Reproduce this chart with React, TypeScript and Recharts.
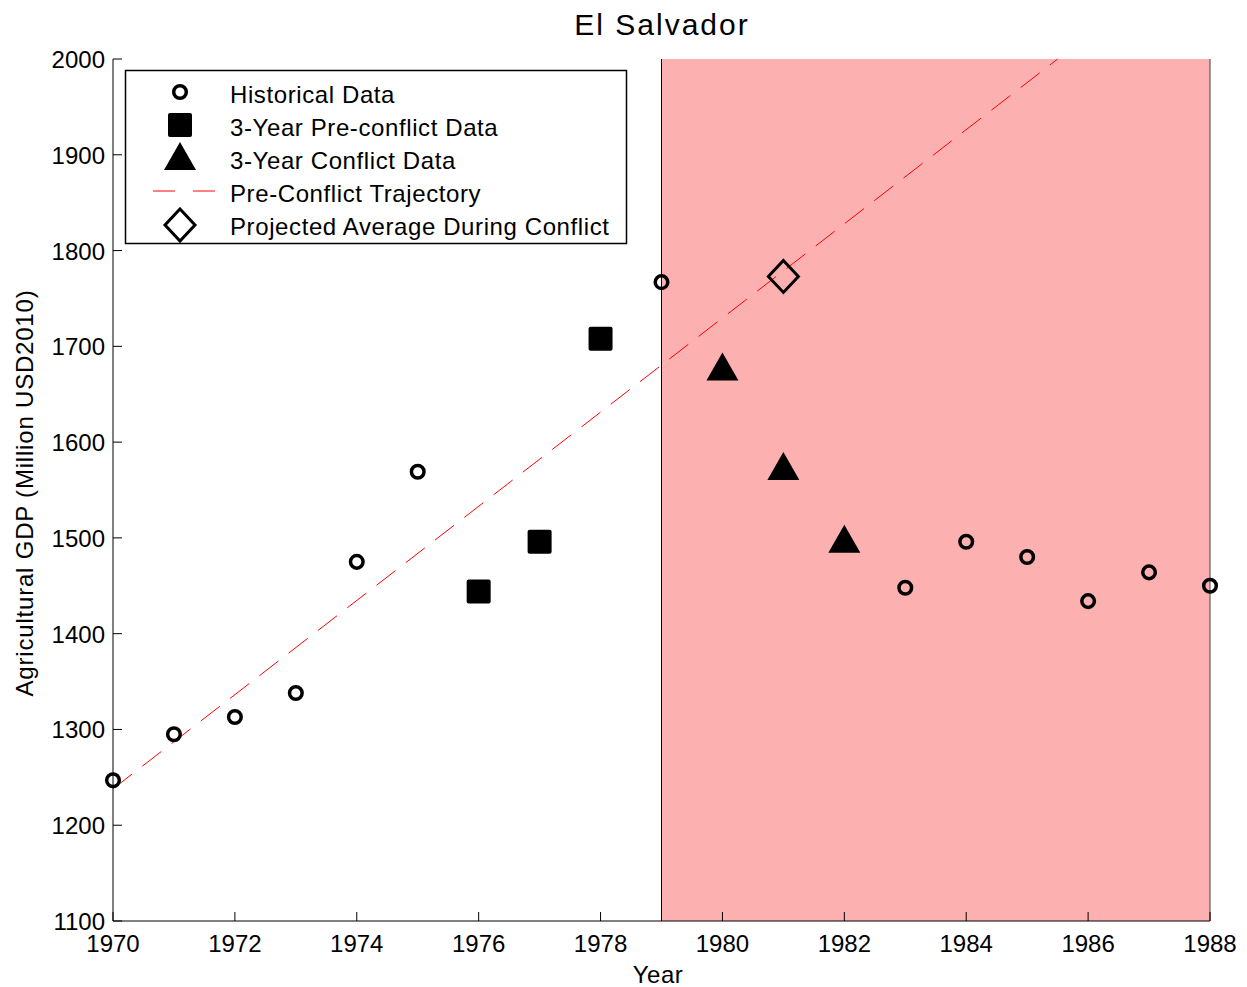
import { ComposedChart, Scatter, Line, XAxis, YAxis, ReferenceArea, ReferenceLine } from 'recharts';

const historicalYears = [1970, 1971, 1972, 1973, 1974, 1975, 1979, 1983, 1984, 1985, 1986, 1987, 1988];
const historicalGdp = [1247, 1295, 1313, 1338, 1475, 1569, 1767, 1448, 1496, 1480, 1434, 1464, 1450];

const preConflictYears = [1976, 1977, 1978];
const preConflictGdp = [1444, 1496, 1708];

const conflictYears = [1980, 1981, 1982];
const conflictGdp = [1678, 1574, 1498];

const trajectoryYears = [1970, 1985.5];
const trajectoryGdp = [1238, 2000];

const projectedYears = [1981];
const projectedGdp = [1773];

const xTicks = [1970, 1972, 1974, 1976, 1978, 1980, 1982, 1984, 1986, 1988];
const yTicks = [1100, 1200, 1300, 1400, 1500, 1600, 1700, 1800, 1900, 2000];

const conflictStart = 1979;
const conflictEnd = 1988;

const legendLabels = [
  'Historical Data',
  '3-Year Pre-conflict Data',
  '3-Year Conflict Data',
  'Pre-Conflict Trajectory',
  'Projected Average During Conflict',
];

const toPoints = (years: number[], values: number[]) =>
  years.map((year, i) => ({ year, gdp: values[i] }));

const FONT = '"Liberation Sans", Arial, Helvetica, sans-serif';
const PINK = '#FDB0B0';

// marker shapes (matlab style)
const CircleMark = ({ cx, cy }: any) => (
  <circle cx={cx} cy={cy} r={6.3} fill="none" stroke="#000" strokeWidth={3.5} />
);
const SquareMark = ({ cx, cy }: any) => (
  <rect x={cx - 12} y={cy - 12} width={24} height={24} rx={2} fill="#000" />
);
const TriangleMark = ({ cx, cy }: any) => (
  <path d={`M${cx},${cy - 15} L${cx + 16},${cy + 13} L${cx - 16},${cy + 13} Z`} fill="#000" />
);
const DiamondMark = ({ cx, cy }: any) => (
  <path
    d={`M${cx},${cy - 16} L${cx + 15},${cy} L${cx},${cy + 16} L${cx - 15},${cy} Z`}
    fill="none"
    stroke="#000"
    strokeWidth={3}
  />
);

const BottomTick = ({ x, y, payload }: any) => (
  <g>
    <line x1={x} y1={y} x2={x} y2={y - 9} stroke="#000" />
    <text x={x} y={y + 31} textAnchor="middle" fontSize={24} fontFamily={FONT} fill="#000">
      {payload.value}
    </text>
  </g>
);
const TopTick = ({ x, y }: any) => <line x1={x} y1={y} x2={x} y2={y + 9} stroke="#000" />;
const LeftTick = ({ x, y, payload }: any) => (
  <g>
    <line x1={x} y1={y} x2={x + 9} y2={y} stroke="#000" />
    <text x={x - 8} y={y + 9} textAnchor="end" fontSize={24} fontFamily={FONT} fill="#000">
      {payload.value}
    </text>
  </g>
);
const RightTick = ({ x, y }: any) => <line x1={x} y1={y} x2={x - 9} y2={y} stroke="#000" />;

export default function App() {
  const legendMarks = [
    <CircleMark cx={180} cy={92} />,
    <SquareMark cx={180} cy={125} />,
    <TriangleMark cx={180} cy={157} />,
    <g>
      <line x1={153} y1={191} x2={175} y2={191} stroke="#ff0000" />
      <line x1={193} y1={191} x2={215} y2={191} stroke="#ff0000" />
    </g>,
    <DiamondMark cx={180} cy={225} />,
  ];

  return (
    <div style={{ position: 'absolute', left: 0, top: 0, width: 1247, height: 987, background: '#fff' }}>
      <ComposedChart width={1247} height={987} margin={{ top: 58, right: 36, bottom: 65, left: 112 }}>
        <ReferenceArea x1={conflictStart} x2={conflictEnd} y1={1100} y2={2000} fill={PINK} fillOpacity={1} stroke="none" />
        <ReferenceLine x={conflictStart} stroke="#000" strokeWidth={1} />
        <XAxis
          dataKey="year"
          type="number"
          domain={[1970, 1988]}
          ticks={xTicks}
          interval={0}
          height={1}
          tickSize={0}
          tickMargin={0}
          tickLine={false}
          axisLine={{ stroke: '#000' }}
          tick={<BottomTick />}
        />
        <XAxis
          xAxisId="top"
          orientation="top"
          type="number"
          domain={[1970, 1988]}
          ticks={xTicks}
          interval={0}
          height={1}
          tickSize={0}
          tickMargin={0}
          tickLine={false}
          axisLine={false}
          tick={<TopTick />}
        />
        <YAxis
          dataKey="gdp"
          type="number"
          domain={[1100, 2000]}
          ticks={yTicks}
          interval={0}
          width={1}
          tickSize={0}
          tickMargin={0}
          tickLine={false}
          axisLine={{ stroke: '#000' }}
          tick={<LeftTick />}
        />
        <YAxis
          yAxisId="right"
          orientation="right"
          type="number"
          domain={[1100, 2000]}
          ticks={yTicks}
          interval={0}
          width={1}
          tickSize={0}
          tickMargin={0}
          tickLine={false}
          axisLine={{ stroke: '#444' }}
          tick={<RightTick />}
        />
        <Line
          data={toPoints(trajectoryYears, trajectoryGdp)}
          dataKey="gdp"
          type="linear"
          stroke="#ff0000"
          strokeWidth={1}
          strokeDasharray="24 13"
          dot={false}
          activeDot={false}
          isAnimationActive={false}
        />
        <Scatter data={toPoints(historicalYears, historicalGdp)} dataKey="gdp" shape={<CircleMark />} isAnimationActive={false} />
        <Scatter data={toPoints(preConflictYears, preConflictGdp)} dataKey="gdp" shape={<SquareMark />} isAnimationActive={false} />
        <Scatter data={toPoints(conflictYears, conflictGdp)} dataKey="gdp" shape={<TriangleMark />} isAnimationActive={false} />
        <Scatter data={toPoints(projectedYears, projectedGdp)} dataKey="gdp" shape={<DiamondMark />} isAnimationActive={false} />
      </ComposedChart>

      <svg width={1247} height={987} style={{ position: 'absolute', left: 0, top: 0, pointerEvents: 'none' }}>
        <text x={662} y={35} textAnchor="middle" fontSize={30} fontFamily={FONT} letterSpacing={2} fill="#000">
          El Salvador
        </text>
        <text x={658} y={983} textAnchor="middle" fontSize={24} fontFamily={FONT} letterSpacing={0.5} fill="#000">
          Year
        </text>
        <text
          x={33}
          y={493}
          transform="rotate(-90, 33, 493)"
          textAnchor="middle"
          fontSize={24}
          fontFamily={FONT}
          letterSpacing={0.8}
          fill="#000"
        >
          Agricultural GDP (Million USD2010)
        </text>
        <rect x={125.5} y={70.5} width={501} height={173} fill="#fff" stroke="#000" strokeWidth={1.5} />
        {legendLabels.map((label, i) => (
          <g key={label}>
            {legendMarks[i]}
            <text x={230} y={103 + i * 33} fontSize={24} fontFamily={FONT} letterSpacing={0.6} fill="#000">
              {label}
            </text>
          </g>
        ))}
      </svg>
    </div>
  );
}
